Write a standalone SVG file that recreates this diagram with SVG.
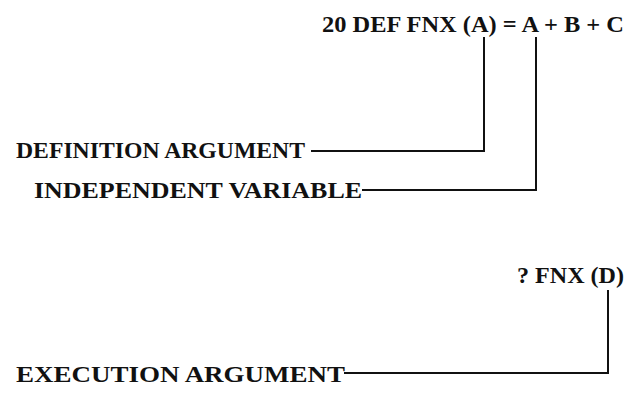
<svg xmlns="http://www.w3.org/2000/svg" width="639" height="410" viewBox="0 0 639 410">
<style>
text{font-family:"Liberation Serif","Times New Roman",serif;font-weight:bold;font-size:24px;fill:#111}
.c{fill:none;stroke:#111;stroke-width:2}
</style>
<rect width="639" height="410" fill="#fff"/>
<g id="formula"><text x="322" y="32" textLength="302" lengthAdjust="spacingAndGlyphs">20 DEF FNX (A) = A + B + C</text></g>
<g id="definition-argument"><text x="16" y="158" textLength="289" lengthAdjust="spacingAndGlyphs">DEFINITION ARGUMENT</text></g>
<g id="independent-variable"><text x="34" y="198" textLength="328" lengthAdjust="spacingAndGlyphs">INDEPENDENT VARIABLE</text></g>
<g id="call"><text x="517" y="283" textLength="107" lengthAdjust="spacingAndGlyphs">? FNX (D)</text></g>
<g id="execution-argument"><text x="16" y="382" textLength="329" lengthAdjust="spacingAndGlyphs">EXECUTION ARGUMENT</text></g>
<g id="connectors">
<polyline class="c" points="311,151 484,151 484,37"/>
<polyline class="c" points="362,190 536,190 536,37"/>
<polyline class="c" points="344,373 608,373 608,290"/>
</g>
</svg>
